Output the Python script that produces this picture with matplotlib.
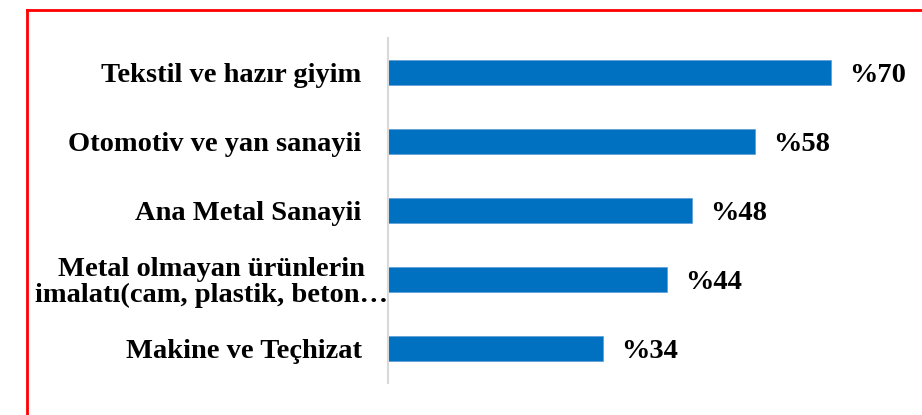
import matplotlib
matplotlib.use("Agg")
import matplotlib.pyplot as plt
from matplotlib.lines import Line2D

categories = [
    "Tekstil ve hazır giyim",
    "Otomotiv ve yan sanayii",
    "Ana Metal Sanayii",
    "Metal olmayan ürünlerin\nimalatı(cam, plastik, beton…",
    "Makine ve Teçhizat",
]
values = [70, 58, 48, 44, 34]
value_labels = ["%70", "%58", "%48", "%44", "%34"]

W, H, DPI = 922, 415, 100
fig = plt.figure(figsize=(W / DPI, H / DPI), dpi=DPI)
fig.patch.set_facecolor("white")

font = ["Liberation Serif", "DejaVu Serif"]
ax = fig.add_axes([388 / W, (H - 383) / H, (920 - 388) / W, 345 / H])
ypos = list(range(len(categories)))
ax.barh(ypos, values, height=0.35, color="#0070C0", edgecolor="#5b9bd5", linewidth=0.5)
ax.set_ylim(len(categories) - 0.5, -0.5)
ax.set_xlim(0, 84)

ax.set_yticks(ypos)
ax.set_yticklabels(categories, fontsize=20.5, fontweight="bold", family=font)
ax.tick_params(axis="y", length=0, pad=19)
ax.tick_params(axis="x", length=0, labelbottom=False)
for i, lbl in enumerate(ax.get_yticklabels()):
    if "\n" in categories[i]:
        lbl.set_multialignment("center")
        lbl.set_linespacing(1.0)
        ax.yaxis.get_major_ticks()[i].set_pad(0)

for y, v, s in zip(ypos, values, value_labels):
    ax.annotate(s, xy=(v, y), xytext=(13, -2.5), textcoords="offset points",
                va="center", ha="left", fontsize=20.5, fontweight="bold", family=font)

for side in ["top", "right", "bottom"]:
    ax.spines[side].set_visible(False)
ax.spines["left"].set_color("#d9d9d9")
ax.spines["left"].set_linewidth(1.5)

# red frame lines along the top and left edges
fig.add_artist(Line2D([27 / W, 1.0], [(H - 10) / H, (H - 10) / H], color="red", linewidth=2,
                      transform=fig.transFigure))
fig.add_artist(Line2D([27 / W, 27 / W], [0, (H - 10) / H], color="red", linewidth=2,
                      transform=fig.transFigure))

fig.savefig("out.png", dpi=DPI)
